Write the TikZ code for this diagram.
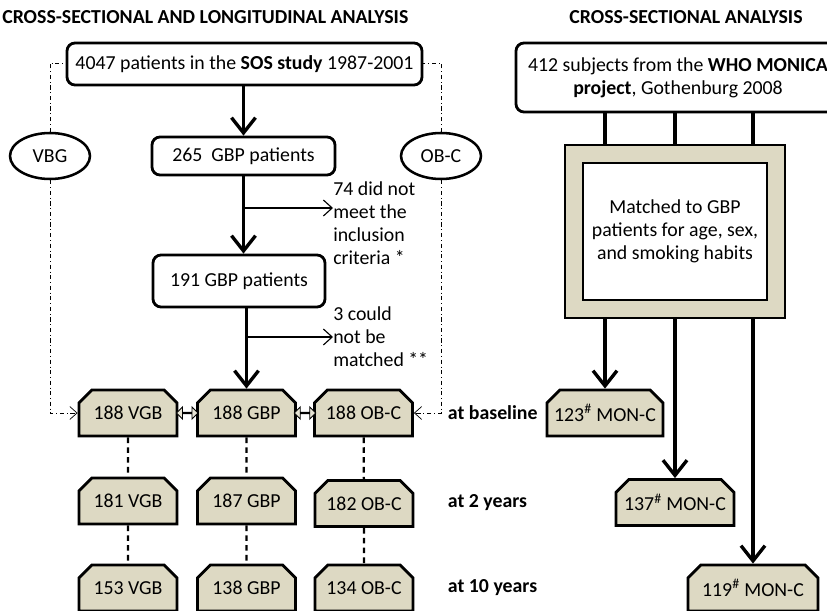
\documentclass[tikz,border=0pt]{standalone}
\usepackage{fontspec}
\setmainfont{Carlito}
\usetikzlibrary{arrows.meta,shapes.geometric,shapes.misc,shapes.arrows,calc}
\definecolor{tanbox}{HTML}{DDD9C3}
\tikzset{
  rbox/.style={draw, line width=2pt, rounded corners=2mm, fill=white, align=center, inner sep=1mm},
  cbox/.style={chamfered rectangle, chamfered rectangle corners={north west,north east},
    chamfered rectangle xsep=1.6mm, chamfered rectangle ysep=1.6mm,
    draw, line width=2pt, fill=tanbox, minimum height=11.5mm, minimum width=24.5mm, inner sep=0pt},
  oval/.style={ellipse, draw, line width=1.8pt, fill=white, minimum width=20mm, minimum height=11.5mm, inner sep=0pt},
  mainarrow/.style={line width=2.4pt, -{Straight Barb[length=3.8mm,width=6mm]}},
  sidearrow/.style={line width=0.8pt, -{Straight Barb[length=2.2mm,width=4mm]}},
  dotlink/.style={line width=0.5pt, dash dot, -{Straight Barb[length=1.8mm,width=3.2mm]}},
  dashlink/.style={line width=1.6pt, dash pattern=on 4pt off 3pt},
  pairarrow/.style={double arrow, draw, line width=0.6pt, fill=tanbox!70, minimum width=3mm,
    minimum height=5.4mm, double arrow head extend=0.85mm, double arrow head indent=0pt, inner sep=0pt},
  tlabel/.style={anchor=west, execute at begin node=\bfseries},
  note/.style={anchor=north west, align=left, inner sep=0pt}
}
\begin{document}
\begin{tikzpicture}[x=0.25mm, y=-0.25mm, font=\fontsize{14.1pt}{16.4pt}\selectfont]
\clip (0,0) rectangle (827,611);
% titles
\node (title1) at (2,17) [anchor=west, inner sep=0pt] {\bfseries CROSS-SECTIONAL AND LONGITUDINAL ANALYSIS};
\node (title2) at (686,17) [inner sep=0pt] {\bfseries CROSS-SECTIONAL ANALYSIS};

% left part
\node (sos) at (244.5,64) [rbox, minimum width=88.75mm, minimum height=10.5mm] {4047 patients in the \textbf{SOS study} 1987-2001};
\node (gbp265) at (243.5,156) [rbox, minimum width=45.75mm, minimum height=9.5mm] {265\ \ GBP patients};
\node (gbp191) at (239,281) [rbox, minimum width=43mm, minimum height=13mm] {191 GBP patients};
\node (vbg) at (50,156) [oval] {VBG};
\node (obc) at (441,156) [oval] {OB-C};

\node (excl) at (333,181) [note] {74 did not\\meet the\\inclusion\\criteria *};
\node (unmatch) at (333,306) [note] {3 could\\not be\\matched **};

\node (vgb0) at (128,413) [cbox] {188 VGB};
\node (gbp0) at (246.5,413) [cbox] {188 GBP};
\node (obc0) at (363.5,413) [cbox] {188 OB-C};
\node (vgb2) at (128,501) [cbox] {181 VGB};
\node (gbp2) at (246.5,501) [cbox] {187 GBP};
\node (obc2) at (364,503.5) [cbox] {182 OB-C};
\node (vgb10) at (128,588) [cbox] {153 VGB};
\node (gbp10) at (246.5,588) [cbox] {138 GBP};
\node (obc10) at (364,588) [cbox] {134 OB-C};

\node (base) at (443,413) [tlabel] {at baseline};
\node (yr2) at (443,503) [tlabel] {at 2 years};
\node (yr10) at (443,588) [tlabel] {at 10 years};

\draw[mainarrow] (sos.south -| gbp265.north) -- (gbp265.north);
\draw[mainarrow] (gbp265.south) -- (gbp265.south |- gbp191.north);
\draw[mainarrow] (gbp191.south -| gbp0.north) -- (gbp0.north);
\coordinate (b1) at (gbp265.south |- 0,208);
\coordinate (b2) at (gbp0.north |- 0,337);
\draw[sidearrow] (b1) -- (b1 -| excl.west);
\draw[sidearrow] (b2) -- (b2 -| unmatch.west);

\draw[dotlink, -] (vbg.north) |- (sos.west |- 0,63);
\draw[dotlink, -] (obc.north) |- (sos.east |- 0,63);
\draw[dotlink] (vbg.south) |- (vgb0.west);
\draw[dotlink] (obc.south) |- (obc0.east);

\node (pair1) at ($(vgb0.east)!0.5!(gbp0.west)$) [pairarrow] {};
\node (pair2) at ($(gbp0.east)!0.5!(obc0.west)$) [pairarrow] {};

\draw[dashlink] (vgb0) -- (vgb2);
\draw[dashlink] (vgb2) -- (vgb10);
\draw[dashlink] (gbp0) -- (gbp2);
\draw[dashlink] (gbp2) -- (gbp10);
\draw[dashlink] (obc0) -- (obc2);
\draw[dashlink] (obc2) -- (obc10);

% right part
\node (mon) at (678,77.5) [rbox, minimum width=81mm, minimum height=17.25mm] {412 subjects from the \textbf{WHO MONICA}\\\textbf{project}, Gothenburg 2008};
\node (frame) at (675,231.5) [draw, line width=1.6pt, fill=tanbox, minimum width=55mm, minimum height=43.25mm] {};
\node (match) at (675,231.5) [draw, line width=1.8pt, fill=white, minimum width=46mm, minimum height=34.25mm, align=center] {Matched to GBP\\patients for age, sex,\\and smoking habits};

\node (mon0) at (605,413) [cbox, minimum width=29mm] {123\textsuperscript{\#} MON-C};
\node (mon2) at (675,502.5) [cbox, minimum width=29.5mm] {137\textsuperscript{\#} MON-C};
\node (mon10) at (753,588) [cbox, minimum width=32.5mm] {119\textsuperscript{\#} MON-C};

\foreach \m in {mon0,mon2,mon10} {
  \draw[line width=2.4pt] (mon.south -| \m.north) -- (frame.north -| \m.north);
  \draw[mainarrow] (frame.south -| \m.north) -- (\m.north);
}
\end{tikzpicture}
\end{document}
